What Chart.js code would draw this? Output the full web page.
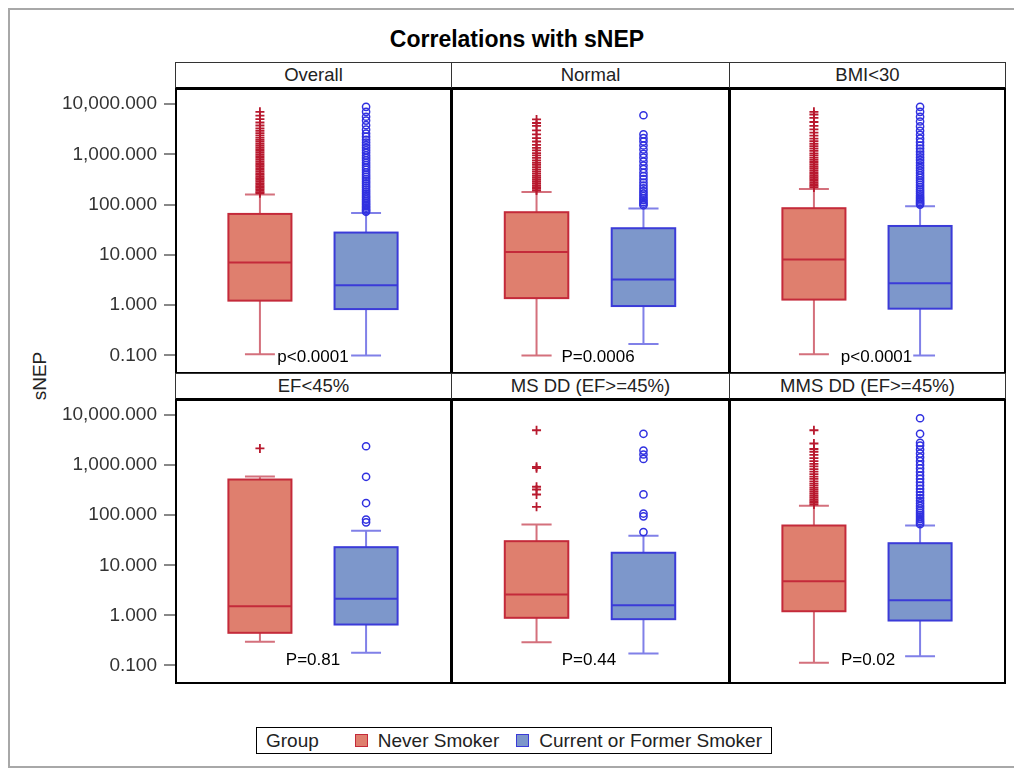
<!DOCTYPE html>
<html>
<head>
<meta charset="utf-8">
<title>Correlations with sNEP</title>
<script src="https://cdn.jsdelivr.net/npm/chart.js@4.4.1/dist/chart.umd.min.js"></script>
<style>
  body { margin: 0; background: #fff; font-family: "Liberation Sans", Arial, sans-serif; }
  #page { position: relative; width: 1014px; height: 770px; overflow: hidden; background: #fff; }
  .outer { position: absolute; left: 8px; top: 8px; width: 1030px; height: 760px; border: 2px solid #a8a8a8; box-sizing: border-box; }
  .title { position: absolute; left: 20px; width: 994px; top: 26px; text-align: center; font-size: 23px; font-weight: bold; color: #000; }
  .strip { position: absolute; box-sizing: border-box; border: 1.5px solid #333; border-bottom: 3px solid #000;
           text-align: center; font-size: 18.5px; color: #222; line-height: 24px; background: #fff; }
  .frame { position: absolute; box-sizing: border-box; border: 2px solid #000; pointer-events: none; }
  canvas { position: absolute; }
  .ylab { position: absolute; left: 40px; top: 376px; transform: translate(-50%, -50%) rotate(-90deg); font-size: 19px; color: #222; }
  .legend { position: absolute; left: 256px; top: 727px; height: 27px; box-sizing: border-box; border: 1.5px solid #000;
            display: flex; align-items: center; padding: 0 9px 0 9px; font-size: 19px; color: #222; white-space: nowrap; }
  .sw { display: inline-block; width: 13px; height: 13px; box-sizing: border-box; border: 1.5px solid; margin: 0 10px 0 0; }
</style>
</head>
<body>
<div id="page">
  <div class="outer"></div>
  <div class="title">Correlations with sNEP</div>
  <div class="ylab">sNEP</div>
  <div class="legend">
    <span style="margin-right:36px">Group</span>
    <span class="sw" style="background:#DF7F6E;border-color:#C42A3A"></span><span style="margin-right:17px">Never Smoker</span>
    <span class="sw" style="background:#7D97CB;border-color:#3B3BD8"></span><span>Current or Former Smoker</span>
  </div>
</div>
<script>
// DATA
const panels = ['Overall', 'Normal', 'BMI<30', 'EF<45%', 'MS DD (EF>=45%)', 'MMS DD (EF>=45%)'];
const groups = ['Never Smoker', 'Current or Former Smoker'];
const yTicks = [0.1, 1, 10, 100, 1000, 10000];
const pValues = ['p<0.0001', 'P=0.0006', 'p<0.0001', 'P=0.81', 'P=0.44', 'P=0.02'];

// [lower whisker, Q1, median, Q3, upper whisker]
const neverStats = [
  [0.105, 1.23, 7.03, 65.3, 159],
  [0.1, 1.38, 11.4, 70.6, 179],
  [0.105, 1.29, 8.06, 84.8, 205],
  [0.297, 0.449, 1.53, 516, 592],
  [0.292, 0.895, 2.61, 30.3, 65.2],
  [0.113, 1.21, 4.82, 62.3, 154]
];
const smokerStats = [
  [0.1, 0.835, 2.48, 27.8, 68.4],
  [0.168, 0.96, 3.22, 33.9, 83.6],
  [0.1, 0.851, 2.72, 37.6, 92.9],
  [0.179, 0.657, 2.14, 23.0, 48.9],
  [0.174, 0.84, 1.6, 17.8, 38.8],
  [0.153, 0.79, 2.01, 27.6, 62.3]
];

const neverOutliers = [
  [168, 178, 190, 204, 218, 232, 250, 268, 290, 312, 335, 362, 390, 420, 455, 490, 530, 575, 620, 670, 725, 785, 850, 920, 1000, 1080, 1170, 1270, 1380, 1500, 1640, 1790, 1950, 2150, 2380, 2650, 2950, 3300, 3750, 4300, 5000, 5900, 7000],
  [190, 205, 222, 240, 262, 285, 312, 342, 375, 412, 455, 500, 555, 615, 680, 760, 850, 950, 1060, 1200, 1350, 1550, 1800, 2100, 2500, 3000, 3700, 4200, 4950],
  [220, 236, 254, 274, 296, 320, 346, 375, 408, 444, 485, 530, 580, 640, 705, 780, 860, 950, 1050, 1170, 1300, 1450, 1620, 1820, 2050, 2350, 2700, 3150, 3700, 4400, 5300, 6200, 7000],
  [2150],
  [147, 259, 326, 370, 870, 925, 4970],
  [163, 176, 190, 206, 224, 244, 266, 292, 320, 352, 388, 428, 475, 530, 590, 660, 740, 830, 940, 1060, 1200, 1380, 1600, 1850, 2100, 2700, 4970]
];
const smokerOutliers = [
  [72, 76, 81, 87, 93, 100, 108, 117, 127, 138, 150, 164, 180, 198, 218, 240, 265, 292, 322, 356, 395, 440, 490, 545, 610, 680, 760, 850, 950, 1070, 1200, 1350, 1520, 1720, 1950, 2250, 2600, 3100, 3800, 4700, 5600, 7000, 8800],
  [97, 104, 112, 122, 134, 148, 165, 185, 210, 240, 275, 320, 370, 430, 510, 600, 720, 860, 1020, 1250, 1500, 1800, 2100, 2500, 6000],
  [100, 106, 113, 121, 130, 140, 152, 166, 182, 200, 222, 246, 274, 305, 340, 380, 425, 475, 535, 600, 680, 770, 870, 990, 1130, 1300, 1500, 1750, 2050, 2450, 2950, 3600, 4500, 5600, 7000, 8800],
  [72, 82, 175, 585, 2380],
  [46, 95, 108, 260, 1330, 1630, 1950, 4220],
  [66, 71, 77, 84, 92, 101, 111, 123, 137, 153, 172, 194, 220, 252, 290, 335, 390, 455, 530, 620, 730, 860, 1010, 1200, 1430, 1700, 2050, 2450, 2780, 4220, 8630]
];

// LAYOUT + STYLE
const xPos = [1, 2];          // box centres on the hidden x axis
const boxHalf = 0.297, capHalf = 0.141;
const labelX = [1.5, 1.575, 1.59, 1.5, 1.49, 1.51];
const labelY = [0.095, 0.095, 0.095, 0.132, 0.132, 0.132];
const colX = [175, 451, 729, 1005];
const rowY = [{ strip: 62, top: 89, bottom: 373 }, { strip: 373, top: 400, bottom: 683 }];
const styles = [
  { fill: '#DF7F6E', line: '#C42A3A', whisker: '#D4707C', point: '#B8192E' },
  { fill: '#7D97CB', line: '#3B3BD8', whisker: '#8080E8', point: '#3030E0' }
];

Chart.defaults.font.family = '"Liberation Sans", Arial, sans-serif';
Chart.defaults.font.size = 19;
Chart.defaults.color = '#333';

const boxPlugin = {
  id: 'boxes',
  beforeDatasetsDraw(chart, args, opts) {
    const i = opts.panel;
    const ctx = chart.ctx, xs = chart.scales.x, ys = chart.scales.y;
    [neverStats[i], smokerStats[i]].forEach((s, g) => {
      const st = styles[g];
      const cx = xs.getPixelForValue(xPos[g]);
      const hw = xs.getPixelForValue(xPos[g] + boxHalf) - cx;
      const cw = xs.getPixelForValue(xPos[g] + capHalf) - cx;
      const [lo, q1, med, q3, hi] = s.map(v => ys.getPixelForValue(v));
      ctx.save();
      // whiskers + caps
      ctx.strokeStyle = st.whisker;
      ctx.lineWidth = 2;
      ctx.beginPath();
      ctx.moveTo(cx, q3); ctx.lineTo(cx, hi);
      ctx.moveTo(cx - cw, hi); ctx.lineTo(cx + cw, hi);
      ctx.moveTo(cx, q1); ctx.lineTo(cx, lo);
      ctx.moveTo(cx - cw, lo); ctx.lineTo(cx + cw, lo);
      ctx.stroke();
      // box + median
      ctx.fillStyle = st.fill;
      ctx.fillRect(cx - hw, q3, 2 * hw, q1 - q3);
      ctx.strokeStyle = st.line;
      ctx.lineWidth = 2;
      ctx.strokeRect(cx - hw, q3, 2 * hw, q1 - q3);
      ctx.beginPath();
      ctx.moveTo(cx - hw, med); ctx.lineTo(cx + hw, med);
      ctx.stroke();
      ctx.restore();
    });
  },
  afterDatasetsDraw(chart, args, opts) {
    const i = opts.panel;
    const ctx = chart.ctx;
    const x = chart.scales.x.getPixelForValue(labelX[i]);
    const y = chart.scales.y.getPixelForValue(labelY[i]);
    ctx.save();
    ctx.font = '17px "Liberation Sans", Arial, sans-serif';
    const w = ctx.measureText(pValues[i]).width;
    ctx.fillStyle = '#fff';
    ctx.fillRect(x - w / 2 - 1, y - 9, w + 2, 18);
    ctx.fillStyle = '#000';
    ctx.textAlign = 'center';
    ctx.textBaseline = 'middle';
    ctx.fillText(pValues[i], x, y + 1);
    ctx.restore();
  }
};

const page = document.getElementById('page');

panels.forEach((name, i) => {
  const col = i % 3, row = Math.floor(i / 3);
  const r = rowY[row];
  const left = colX[col], right = colX[col + 1];
  const isLeft = col === 0;
  const axisW = 135;

  const strip = document.createElement('div');
  strip.className = 'strip';
  strip.style.left = left + 'px';
  strip.style.top = r.strip + 'px';
  strip.style.width = (right - left + 1) + 'px';
  strip.style.height = (r.top - r.strip + 1) + 'px';
  strip.textContent = name;
  page.appendChild(strip);

  const cv = document.createElement('canvas');
  const cLeft = isLeft ? left - axisW : left;
  cv.width = right - cLeft;
  cv.height = r.bottom - r.top;
  cv.style.left = cLeft + 'px';
  cv.style.top = r.top + 'px';
  page.appendChild(cv);

  const frame = document.createElement('div');
  frame.className = 'frame';
  frame.style.left = left + 'px';
  frame.style.top = (r.top - 1) + 'px';
  frame.style.width = (right - left + 1) + 'px';
  frame.style.height = (r.bottom - r.top + 2) + 'px';
  page.appendChild(frame);

  new Chart(cv, {
    type: 'scatter',
    data: {
      datasets: [
        {
          label: groups[0],
          data: neverOutliers[i].map(v => ({ x: xPos[0], y: v })),
          pointStyle: 'cross',
          pointRadius: 4.5,
          borderColor: styles[0].point,
          borderWidth: 1.8
        },
        {
          label: groups[1],
          data: smokerOutliers[i].map(v => ({ x: xPos[1], y: v })),
          pointStyle: 'circle',
          pointRadius: 3.6,
          borderColor: styles[1].point,
          backgroundColor: 'rgba(0,0,0,0)',
          borderWidth: 1.5
        }
      ]
    },
    options: {
      responsive: false,
      animation: false,
      events: [],
      layout: { padding: 0, autoPadding: false },
      plugins: {
        legend: { display: false },
        tooltip: { enabled: false },
        boxes: { panel: i }
      },
      scales: {
        x: { type: 'linear', min: 0.2, max: 2.8, display: false },
        y: {
          type: 'logarithmic',
          min: 0.0447,
          max: 19950,
          display: isLeft,
          border: { display: false },
          grid: { drawOnChartArea: false, drawTicks: true, tickLength: 11, color: '#888', lineWidth: 2 },
          ticks: {
            padding: 7,
            color: '#333',
            font: { size: 19 },
            callback: v => Number(v).toLocaleString('en-US', { minimumFractionDigits: 3, maximumFractionDigits: 3 })
          },
          afterBuildTicks: axis => { axis.ticks = yTicks.map(v => ({ value: v })); },
          afterFit: axis => {
            if (!isLeft) return;
            axis.width = axisW;
            axis.paddingTop = 0;
            axis.paddingBottom = 0;
          }
        }
      }
    },
    plugins: [boxPlugin]
  });
});
</script>
</body>
</html>
